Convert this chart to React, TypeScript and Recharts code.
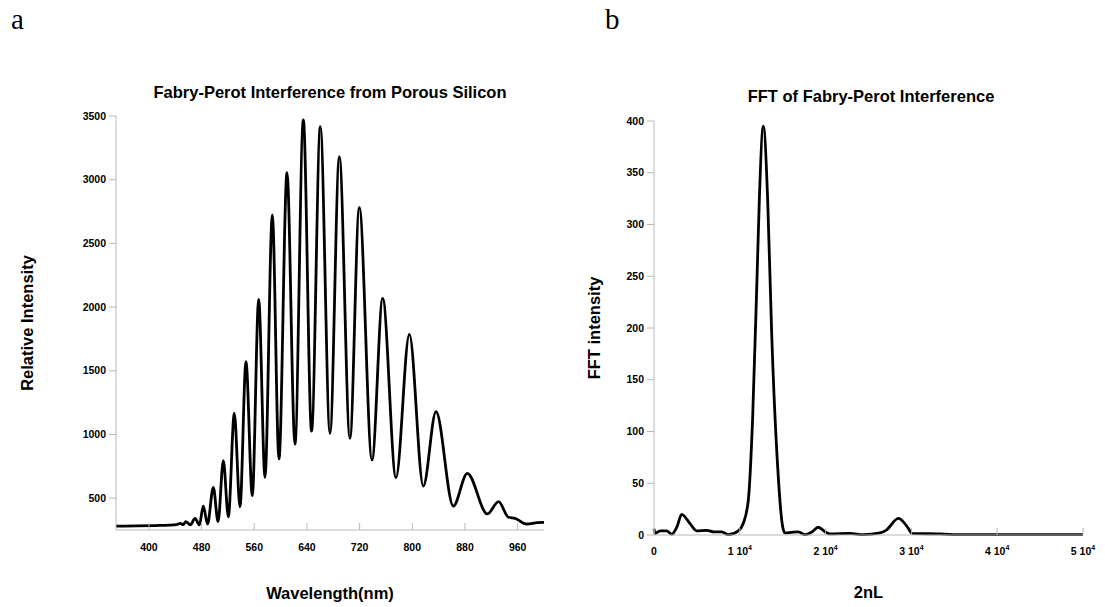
import { LineChart, Line, XAxis, YAxis } from 'recharts'

// Panel a: reflectance spectrum of the porous silicon film
const wavelengthNm = [
  350, 380, 410, 430, 442, 448, 452, 456, 463, 470, 476.6, 482.6, 489, 497.8, 505, 513, 520.6, 529.7,
  538.3, 547.4, 557, 566.7, 576.3, 587.4, 597.5, 609.7, 621.8, 634.5, 647, 660.3, 675, 689.2, 705.3,
  719.5, 738.8, 755, 775.2, 795.5, 816.7, 836, 862.3, 883.5, 914, 931, 946, 956, 973.6, 990, 1000,
]
const relIntensity = [
  280, 282, 285, 288, 293, 302, 292, 315, 290, 342, 290, 438, 297, 585, 315, 794, 354, 1166,
  433, 1571, 520, 2061, 664, 2723, 808, 3055, 925, 3469, 1027, 3416, 1009, 3181, 970,
  2783, 800, 2069, 661, 1786, 595, 1179, 438, 695, 376, 472, 350, 342, 297, 308, 310,
]
const wavelengthTicks = [400, 480, 560, 640, 720, 800, 880, 960]
const intensityTicks = [500, 1000, 1500, 2000, 2500, 3000, 3500]

// Panel b: FFT of the spectrum against optical thickness 2nL
const twoNL = [
  0, 120, 700, 1480, 2060, 2680, 3225, 4196, 4970, 6140, 7000, 7890, 8660, 9830, 10412, 10995,
  11500, 12043, 12277, 12743, 13248, 13714, 14413, 14996, 15270, 16000, 16820, 17600, 18410,
  19150, 19960, 20500, 22840, 24400, 26340, 27118, 28480, 29750, 30030, 33330, 36000, 50000,
]
const fftIntensity = [
  6, 1.5, 4, 4, 0.8, 8, 20, 11, 4, 4.5, 3, 3, 0.3, 4, 11.3, 33.8,
  114, 259, 324, 395, 324, 195, 66, 8, 2, 2.5, 3, 0.3, 3,
  7.5, 3, 1, 1.5, 0.3, 2, 5, 16, 5, 1.5, 1, 0.3, 0.3,
]
const twoNLTicks = [0, 10000, 20000, 30000, 40000, 50000]
const fftTicks = [0, 50, 100, 150, 200, 250, 300, 350, 400]

const spectrum = wavelengthNm.map((w, i) => ({ w, v: relIntensity[i] }))
const fft = twoNL.map((d, i) => ({ d, v: fftIntensity[i] }))

const FONT = 'Liberation Sans, Arial, sans-serif'
const AXIS = '#b8b8b8'
const tickText = { fontFamily: FONT, fontWeight: 700, fontSize: 10.5, fill: '#000' }
const labelText = { fontFamily: FONT, fontWeight: 700, fontSize: 16.5, fill: '#000' }

// x ticks point up into the plot, labels hang below the axis line
const WaveTick = ({ x, y, payload }: any) => (
  <g>
    <line x1={x} y1={y} x2={x} y2={y - 7} stroke={AXIS} />
    <text x={x} y={y + 20.5} textAnchor="middle" {...tickText}>
      {payload.value}
    </text>
  </g>
)

const PowerTick = ({ x, y, payload }: any) => {
  const m = payload.value / 10000
  return (
    <g>
      <line x1={x} y1={y} x2={x} y2={y - 7} stroke={AXIS} />
      <text x={x} y={y + 20} textAnchor="middle" {...tickText}>
        {m === 0 ? (
          '0'
        ) : (
          <>
            <tspan>{`${m} 10`}</tspan>
            <tspan dy={-5} fontSize={7}>4</tspan>
          </>
        )}
      </text>
    </g>
  )
}

export default function App() {
  return (
    <div style={{ position: 'absolute', left: 0, top: 0, width: 1105, height: 607, background: '#fff' }}>
      <div style={{ position: 'absolute', left: 0, top: 0 }}>
        <LineChart width={560} height={607} data={spectrum} margin={{ top: 116, right: 16, left: 0, bottom: 2 }}>
          <XAxis
            dataKey="w"
            type="number"
            domain={[350, 1000]}
            ticks={wavelengthTicks}
            interval={0}
            height={75}
            stroke={AXIS}
            tickLine={false}
            tickSize={0}
            tickMargin={0}
            tick={<WaveTick />}
            label={{ value: 'Wavelength(nm)', position: 'insideBottom', offset: 6, style: labelText }}
          />
          <YAxis
            type="number"
            domain={[250, 3500]}
            ticks={intensityTicks}
            interval={0}
            width={116}
            stroke={AXIS}
            tickSize={7}
            tickMargin={3}
            tick={tickText}
            label={{
              value: 'Relative Intensity',
              angle: -90,
              position: 'insideLeft',
              offset: 27,
              style: { ...labelText, textAnchor: 'middle' },
            }}
          />
          <Line
            dataKey="v"
            type="monotone"
            stroke="#000"
            strokeWidth={2.8}
            strokeLinejoin="round"
            dot={false}
            isAnimationActive={false}
          />
        </LineChart>
      </div>

      <div style={{ position: 'absolute', left: 560, top: 0 }}>
        <LineChart width={545} height={607} data={fft} margin={{ top: 121, right: 22, left: 0, bottom: 2 }}>
          <XAxis
            dataKey="d"
            type="number"
            domain={[0, 50000]}
            ticks={twoNLTicks}
            interval={0}
            height={70}
            stroke={AXIS}
            tickLine={false}
            tickSize={0}
            tickMargin={0}
            tick={<PowerTick />}
            label={{ value: '2nL', position: 'insideBottom', offset: 7, style: labelText }}
          />
          <YAxis
            type="number"
            domain={[0, 400]}
            ticks={fftTicks}
            interval={0}
            width={94}
            stroke={AXIS}
            tickSize={7}
            tickMargin={3}
            tick={tickText}
            label={{
              value: 'FFT intensity',
              angle: -90,
              position: 'insideLeft',
              offset: 34,
              style: { ...labelText, textAnchor: 'middle' },
            }}
          />
          <Line
            dataKey="v"
            type="monotone"
            stroke="#000"
            strokeWidth={2.8}
            strokeLinejoin="round"
            dot={false}
            isAnimationActive={false}
          />
        </LineChart>
      </div>

      {/* panel letters and titles */}
      <svg width={1105} height={607} style={{ position: 'absolute', left: 0, top: 0, pointerEvents: 'none' }}>
        <text x={11} y={28.5} fontFamily="Liberation Serif, Times New Roman, serif" fontSize={29}>
          a
        </text>
        <text x={605} y={28.5} fontFamily="Liberation Serif, Times New Roman, serif" fontSize={29}>
          b
        </text>
        <text x={330} y={97.7} textAnchor="middle" {...labelText}>
          Fabry-Perot Interference from Porous Silicon
        </text>
        <text x={871} y={101.5} textAnchor="middle" {...labelText}>
          FFT of Fabry-Perot Interference
        </text>
      </svg>
    </div>
  )
}
